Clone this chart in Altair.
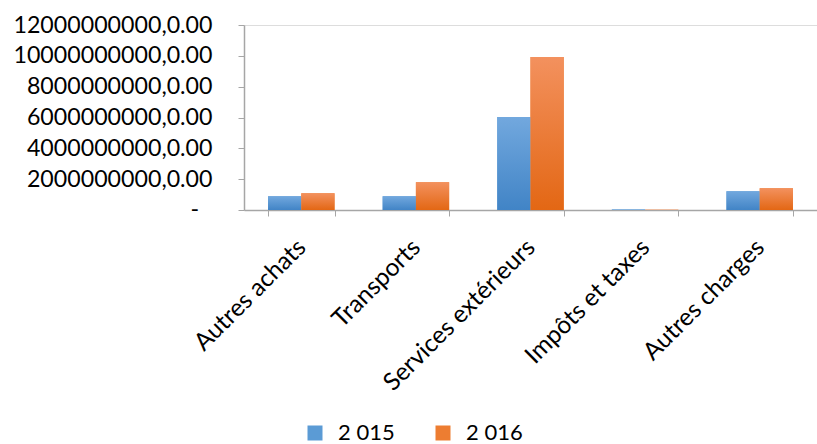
import altair as alt
import pandas as pd

# Charges by category, two fiscal years
categories = ["Autres achats", "Transports", "Services extérieurs", "Impôts et taxes", "Autres charges"]
years = ["2 015", "2 016"]
values_2015 = [0.89e9, 0.89e9, 6.03e9, 0.03e9, 1.21e9]
values_2016 = [1.08e9, 1.80e9, 9.93e9, 0.02e9, 1.41e9]
y_ticks = [0, 2e9, 4e9, 6e9, 8e9, 10e9, 12e9]

rows = []
for cat, a, b in zip(categories, values_2015, values_2016):
    rows.append({"categorie": cat, "annee": years[0], "montant": a})
    rows.append({"categorie": cat, "annee": years[1], "montant": b})
df = pd.DataFrame(rows)

FONT = "Lato"

x_enc = alt.X(
    "categorie:N",
    sort=categories,
    scale=alt.Scale(paddingInner=0.42, paddingOuter=0.21),
    axis=alt.Axis(
        title=None,
        labelAngle=-45,
        labelFontSize=24.5,
        labelPadding=19,
        labelOffset=-8,
        labelLimit=0,
        labelOverlap=False,
        tickBand="extent",
        tickSize=6,
        domainColor="#a6a6a6",
        tickColor="#a6a6a6",
        domainWidth=1.5,
        labelColor="#000000",
        labelFont=FONT,
    ),
)
y_enc = alt.Y(
    "montant:Q",
    scale=alt.Scale(domain=[0, 12e9], nice=False),
    axis=alt.Axis(
        title=None,
        values=y_ticks,
        grid=False,
        # zero is drawn as an accounting dash by its own text layer
        labelExpr="datum.value == 0 ? '' : format(datum.value, 'd') + ',0.00'",
        labelFontSize=23.2,
        labelPadding=26,
        labelLimit=0,
        labelOverlap=False,
        tickSize=6,
        domainColor="#a6a6a6",
        tickColor="#a6a6a6",
        domainWidth=1.5,
        labelColor="#000000",
        labelFont=FONT,
    ),
)
xo_enc = alt.XOffset("annee:N", scale=alt.Scale(domain=years))

# Solid bars carry the colour legend
base = alt.Chart(df).mark_bar().encode(
    x=x_enc,
    y=y_enc,
    xOffset=xo_enc,
    color=alt.Color(
        "annee:N",
        scale=alt.Scale(domain=years, range=["#5b9bd5", "#ed7d31"]),
        legend=alt.Legend(
            title=None,
            orient="none",
            direction="horizontal",
            legendX=60,
            legendY=397,
            symbolType="square",
            symbolSize=225,
            symbolStrokeWidth=0,
            labelFontSize=22,
            labelFont=FONT,
            labelColor="#000000",
            columnPadding=37,
            labelOffset=12,
        ),
    ),
)

def gradient_layer(year, top, bottom):
    return (
        alt.Chart(df)
        .transform_filter(alt.datum.annee == year)
        .mark_bar(
            color=alt.Gradient(
                gradient="linear",
                stops=[
                    alt.GradientStop(color=top, offset=0),
                    alt.GradientStop(color=bottom, offset=1),
                ],
                x1=0, x2=0, y1=0, y2=1,
            )
        )
        .encode(x=x_enc, y=y_enc, xOffset=xo_enc)
    )

# Accounting-style dash for the zero tick
zero_dash = (
    alt.Chart(pd.DataFrame({"montant": [0]}))
    .mark_text(text="-", align="right", baseline="middle", font=FONT, fontSize=23.2, color="#000000")
    .encode(x=alt.value(-45), y=y_enc)
)

chart = (
    alt.layer(
        base,
        gradient_layer(years[0], "#72a8de", "#4184c6"),
        gradient_layer(years[1], "#f3915e", "#e36714"),
        zero_dash,
    )
    .properties(
        width=573,
        height=185,
        autosize="none",
        padding={"left": 244, "top": 25, "right": 0, "bottom": 234},
    )
    .configure_view(stroke=None)
    .configure(background="white")
)

chart.save("out.html", embed_options={"renderer": "svg", "actions": False})
